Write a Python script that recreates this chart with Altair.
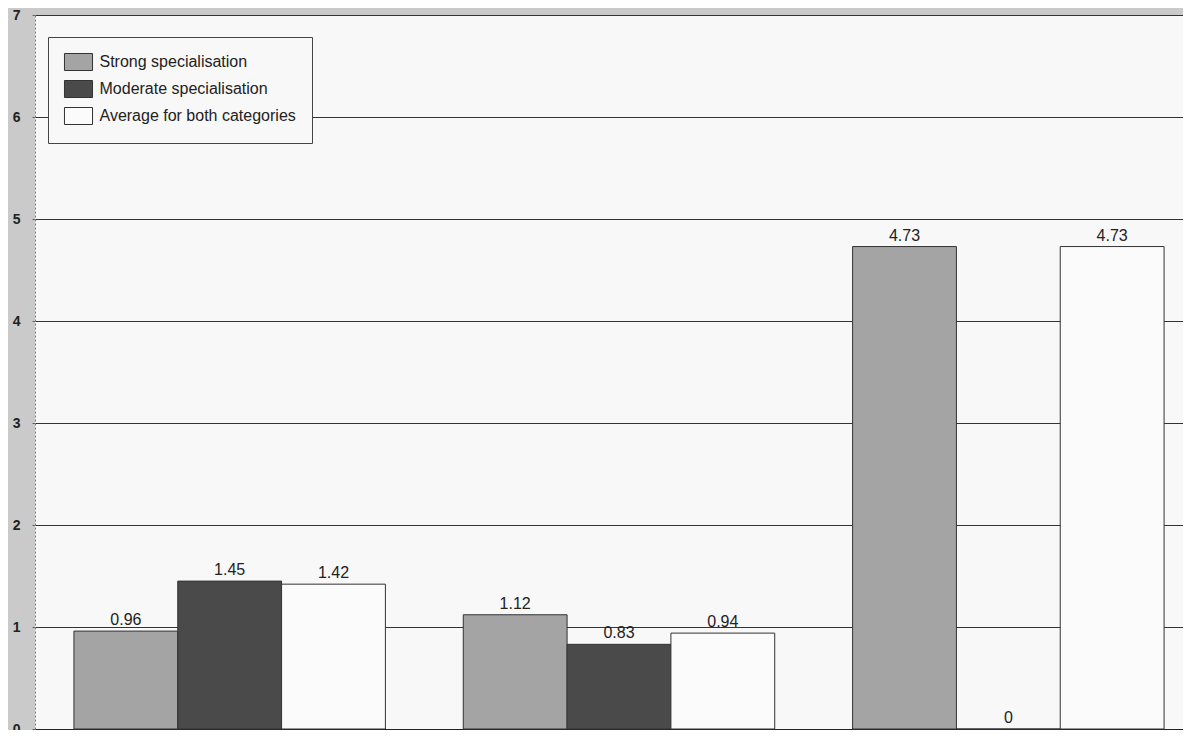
import altair as alt
import pandas as pd

groups = ["Group A", "Group B", "Group C"]
series = ["Strong specialisation", "Moderate specialisation", "Average for both categories"]
strong = [0.96, 1.12, 4.73]
moderate = [1.45, 0.83, 0.0]
average = [1.42, 0.94, 4.73]
colors = ["#a4a4a4", "#4a4a4a", "#fbfbfb"]
y_ticks = [0, 1, 2, 3, 4, 5, 6, 7]

rows = []
for i, g in enumerate(groups):
    for s, vals in zip(series, [strong, moderate, average]):
        rows.append({"group": g, "series": s, "value": vals[i], "label": f"{vals[i]:g}"})
df = pd.DataFrame(rows)

font = "Liberation Sans"

x_enc = alt.X(
    "group:N",
    sort=groups,
    scale=alt.Scale(range=[0, 1168], paddingInner=0.2, paddingOuter=0.1),
    axis=alt.Axis(labels=False, ticks=False, title=None, domainColor="#222", domainWidth=1),
)
xo_enc = alt.XOffset("series:N", sort=series, scale=alt.Scale(paddingInner=0, paddingOuter=0))
y_enc = alt.Y(
    "value:Q",
    scale=alt.Scale(domain=[0, 7], nice=False),
    axis=alt.Axis(
        values=y_ticks, format="d", title=None, labelFont=font, labelFontSize=14,
        labelColor="#222", labelFontWeight=600,
        gridColor="#333", gridWidth=1, gridOpacity=1, tickSize=3, tickColor="#666",
        labelPadding=12, domainColor="#777", domainDash=[2, 2],
    ),
)

bars = alt.Chart(df).mark_bar(stroke="#333", strokeWidth=1, opacity=1).encode(
    x=x_enc,
    xOffset=xo_enc,
    y=y_enc,
    color=alt.Color(
        "series:N",
        sort=series,
        scale=alt.Scale(domain=series, range=colors),
        legend=alt.Legend(
            title=None, orient="none", legendX=13, legendY=22,
            symbolType="M-1.65,-1L1.65,-1L1.65,1L-1.65,1Z", symbolSize=289,
            symbolOffset=5.5,
            symbolStrokeColor="#333", symbolStrokeWidth=1, symbolOpacity=1,
            labelFont=font, labelFontSize=16, labelColor="#222", labelOffset=12,
            labelLimit=400,
            padding=16, rowPadding=5, strokeColor="#444", fillColor="#f8f8f8",
            cornerRadius=0,
        ),
    ),
)

labels = alt.Chart(df).mark_text(
    font=font, fontSize=16, color="#222", baseline="alphabetic", dy=-6
).encode(
    x=alt.X("group:N", sort=groups),
    xOffset=alt.XOffset("series:N", sort=series),
    y=alt.Y("value:Q"),
    text="label:N",
)

chart = (
    alt.layer(bars, labels)
    .properties(
        width=1148, height=714,
        autosize=alt.AutoSizeParams(type="none"),
        padding={"left": 27, "top": 7, "right": 0, "bottom": 1},
        background="#cacaca",
    )
    .configure_view(fill="#f8f8f8", strokeWidth=0)
)

chart.save("out.html", embed_options={"renderer": "svg", "actions": False})
